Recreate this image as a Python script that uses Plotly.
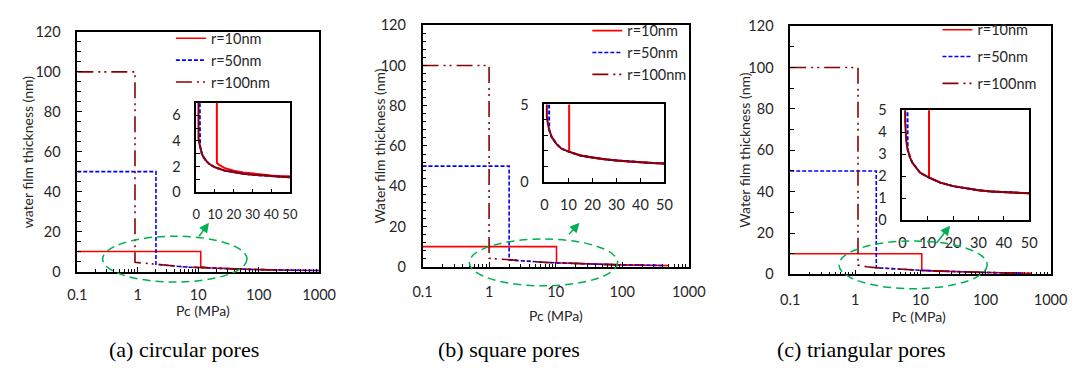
import plotly.graph_objects as go

W, H = 1091, 374

# ---------------- data ----------------
# (a) circular pores
a_r10_pc = [0.1, 11, 11, 12, 15, 20, 25, 30, 35, 40, 45, 50, 70, 100, 200, 500, 1000]
a_r10_h = [10, 10, 2.3, 2.15, 1.9, 1.68, 1.55, 1.45, 1.38, 1.3, 1.25, 1.2, 1.08, 0.96, 0.76, 0.56, 0.45]
a_r50_pc = [0.1, 2, 2, 3, 4, 5, 7, 10, 15, 20, 25, 30, 35, 40, 45, 50, 70, 100, 200, 500, 1000]
a_r50_h = [50, 50, 3.6, 3.0, 2.7, 2.5, 2.2, 1.95, 1.7, 1.55, 1.45, 1.37, 1.3, 1.25, 1.21, 1.17, 1.05, 0.93, 0.74, 0.55, 0.45]
a_r100_pc = [0.1, 0.9, 0.9, 1.2, 1.5, 2, 3, 4, 5, 7, 10, 15, 20, 25, 30, 35, 40, 45, 50, 70, 100, 200, 400]
a_r100_h = [100, 100, 4.6, 4.2, 3.9, 3.5, 3.0, 2.7, 2.5, 2.2, 1.95, 1.7, 1.55, 1.45, 1.37, 1.3, 1.25, 1.21, 1.17, 1.05, 0.93, 0.74, 0.6]

# (b) square pores
b_r10_pc = [0.1, 10.3, 10.3, 15, 20, 25, 30, 35, 40, 45, 50, 70, 100, 200, 500]
b_r10_h = [10, 10, 1.95, 1.7, 1.56, 1.45, 1.38, 1.31, 1.25, 1.21, 1.18, 1.05, 0.93, 0.74, 0.55]
b_r50_pc = [0.1, 2, 2, 3, 4, 5, 7, 10, 15, 20, 25, 30, 35, 40, 45, 50, 70, 100, 200, 400]
b_r50_h = [50, 50, 3.35, 2.9, 2.65, 2.45, 2.15, 1.95, 1.7, 1.56, 1.45, 1.38, 1.31, 1.25, 1.21, 1.18, 1.05, 0.93, 0.74, 0.6]
b_r100_pc = [0.1, 1, 1, 1.5, 2, 3, 4, 5, 7, 10, 15, 20, 25, 30, 35, 40, 45, 50, 70, 100, 200]
b_r100_h = [100, 100, 4.2, 3.7, 3.35, 2.9, 2.65, 2.45, 2.15, 1.95, 1.7, 1.56, 1.45, 1.38, 1.31, 1.25, 1.21, 1.18, 1.05, 0.93, 0.74]

# (c) triangular pores
c_r10_pc = [0.1, 10.5, 10.5, 15, 20, 25, 30, 35, 40, 45, 50, 70, 100, 200, 500]
c_r10_h = [10, 10, 1.93, 1.7, 1.54, 1.44, 1.35, 1.3, 1.25, 1.21, 1.17, 1.05, 0.93, 0.74, 0.55]
c_r50_pc = [0.1, 2.1, 2.1, 3, 4, 5, 7, 10, 15, 20, 25, 30, 35, 40, 45, 50, 70, 100, 200, 350]
c_r50_h = [50, 50, 3.2, 2.85, 2.6, 2.45, 2.15, 1.96, 1.7, 1.54, 1.44, 1.35, 1.3, 1.25, 1.21, 1.17, 1.05, 0.93, 0.74, 0.62]
c_r100_pc = [0.1, 1.1, 1.1, 1.5, 2, 3, 4, 5, 7, 10, 15, 20, 25, 30, 35, 40, 45, 50, 70, 100, 200, 500]
c_r100_h = [100, 100, 4.5, 3.65, 3.25, 2.85, 2.6, 2.45, 2.15, 1.96, 1.7, 1.54, 1.44, 1.35, 1.3, 1.25, 1.21, 1.17, 1.05, 0.93, 0.74, 0.55]

series_names = ["r=10nm", "r=50nm", "r=100nm"]
main_x_ticks = [0.1, 1, 10, 100, 1000]
main_x_labels = ["0.1", "1", "10", "100", "1000"]
y_titles = ["water film thickness (nm)", "Water film thickness (nm)", "Water film thickness (nm)"]
x_title = "Pc (MPa)"
captions = ["(a) circular pores", "(b) square pores", "(c) triangular pores"]

panels = [
    [(a_r10_pc, a_r10_h), (a_r50_pc, a_r50_h), (a_r100_pc, a_r100_h)],
    [(b_r10_pc, b_r10_h), (b_r50_pc, b_r50_h), (b_r100_pc, b_r100_h)],
    [(c_r10_pc, c_r10_h), (c_r50_pc, c_r50_h), (c_r100_pc, c_r100_h)],
]

# ---------------- styling / layout (pixels) ----------------
FONT = "Lato, 'Open Sans', sans-serif"
TXT = "#262626"
TICK_FS = 14.5
colors = ["#FF0000", "#0000FF", "#8B0000"]
dashes = ["solid", "4px,2px", "16px,5px,2px,4px,2px,5px"]

main_boxes = [(69, 317, 24, 275), (423, 696, 17, 270), (800, 1067, 18, 278)]
inset_boxes = [(191, 287, 98, 192), (548, 671, 100, 181), (915, 1045, 106, 221)]
main_minor = [5, 4, 10]
x_standoff = [9, 11, 11]
inset_yrange = [7, 5, 5]
inset_yticks = [[0, 2, 4, 6], [0, 5], [0, 1, 2, 3, 4, 5]]
inset_xfs = [13, TICK_FS, TICK_FS]
legend_pos = [(165, 14), (592, 6), (951, 5)]
legend_gap = [0, 0, 5]
ytitle_x = [18, 379, 753]
xtitle_pos = [(198, 316), (560, 321), (932, 322)]
caption_pos = [(178, 357), (512, 357), (873, 357)]
ellipses = [(95, 243, 238, 286), (471, 623, 241, 290), (850, 1002, 243, 293)]
arrows = [((193, 239), (204, 224)), ((572, 237), (584, 224)), ((949, 246), (964, 227))]
GREEN = "#00B050"


def px(x):
    return x / W


def py(y):
    return 1 - y / H


fig = go.Figure()
layout = dict(
    width=W, height=H, margin=dict(l=0, r=0, t=0, b=0),
    paper_bgcolor="white", plot_bgcolor="white",
    font=dict(family=FONT, size=13, color=TXT),
    shapes=[], annotations=[],
)

for p in range(3):
    mx = 2 * p + 1
    ix = 2 * p + 2
    mxa = "x" if mx == 1 else f"x{mx}"
    mya = "y" if mx == 1 else f"y{mx}"
    ixa = f"x{ix}"
    iya = f"y{ix}"
    leg = "legend" if p == 0 else f"legend{p + 1}"

    for s in range(3):
        xs, ys = panels[p][s]
        fig.add_trace(go.Scatter(
            x=xs, y=ys, mode="lines", name=series_names[s],
            line=dict(color=colors[s], width=1.6, dash=dashes[s]),
            xaxis=mxa, yaxis=mya, legend=leg, legendgroup=f"{p}-{s}",
            showlegend=True,
        ))
    for s in range(3):
        xs, ys = panels[p][s]
        fig.add_trace(go.Scatter(
            x=xs, y=ys, mode="lines",
            line=dict(color=colors[s], width=2.0, dash=dashes[s] if s == 1 else "solid"),
            xaxis=ixa, yaxis=iya, showlegend=False,
        ))

    x0, x1, y0, y1 = main_boxes[p]
    layout[f"xaxis{'' if mx == 1 else mx}"] = dict(
        domain=[px(x0), px(x1)], anchor=mya, type="log", range=[-1, 3],
        tickmode="array", tickvals=main_x_ticks, ticktext=main_x_labels,
        ticks="inside", ticklen=5, tickcolor="black", tickwidth=1,
        minor=dict(dtick="D1", ticks="inside", ticklen=3, tickcolor="black", tickwidth=1),
        showline=True, linecolor="black", linewidth=1.5, mirror=True,
        showgrid=False, zeroline=False, tickfont=dict(size=TICK_FS, color=TXT),
        ticklabelstandoff=x_standoff[p], tickangle=0,
    )
    layout[f"yaxis{'' if mx == 1 else mx}"] = dict(
        domain=[py(y1), py(y0)], anchor=mxa, range=[0, 120], dtick=20,
        ticks="inside", ticklen=5, tickcolor="black", tickwidth=1,
        minor=dict(dtick=main_minor[p], ticks="inside", ticklen=4, tickcolor="black", tickwidth=1),
        showline=True, linecolor="black", linewidth=1.5, mirror=True,
        showgrid=False, zeroline=False, tickfont=dict(size=TICK_FS, color=TXT),
        ticklabelstandoff=12,
    )

    x0, x1, y0, y1 = inset_boxes[p]
    layout[f"xaxis{ix}"] = dict(
        domain=[px(x0), px(x1)], anchor=iya, range=[0, 50], dtick=10,
        ticks="inside", ticklen=4, tickcolor="black",
        showline=True, linecolor="black", linewidth=1.5, mirror=True,
        showgrid=False, zeroline=False, tickfont=dict(size=inset_xfs[p], color=TXT),
        ticklabelstandoff=9, tickangle=0,
    )
    layout[f"yaxis{ix}"] = dict(
        domain=[py(y1), py(y0)], anchor=ixa, range=[0, inset_yrange[p]],
        tickmode="array", tickvals=inset_yticks[p],
        ticks="inside", ticklen=4, tickcolor="black",
        minor=dict(dtick=1, ticks="inside", ticklen=4, tickcolor="black"),
        showline=True, linecolor="black", linewidth=1.5, mirror=True,
        showgrid=False, zeroline=False, tickfont=dict(size=TICK_FS, color=TXT),
        ticklabelstandoff=11,
    )

    lx, ly = legend_pos[p]
    layout[leg] = dict(
        x=px(lx), y=py(ly), xanchor="left", yanchor="top",
        bgcolor="rgba(0,0,0,0)", borderwidth=0,
        font=dict(family=FONT, size=14.5, color=TXT),
        traceorder="grouped", tracegroupgap=legend_gap[p],
    )

    # axis titles and caption
    yt0, yt1 = main_boxes[p][2], main_boxes[p][3]
    layout["annotations"].append(dict(
        text=y_titles[p], x=px(ytitle_x[p]), y=py((yt0 + yt1) / 2), xref="paper", yref="paper",
        textangle=-90, showarrow=False, font=dict(family=FONT, size=14, color=TXT),
        xanchor="center", yanchor="middle"))
    tx, ty = xtitle_pos[p]
    layout["annotations"].append(dict(
        text=x_title, x=px(tx), y=py(ty), xref="paper", yref="paper",
        showarrow=False, font=dict(family=FONT, size=14, color=TXT),
        xanchor="center", yanchor="middle"))
    cx, cy = caption_pos[p]
    layout["annotations"].append(dict(
        text=captions[p], x=px(cx), y=py(cy), xref="paper", yref="paper",
        showarrow=False, font=dict(family="'Liberation Serif', 'Times New Roman', serif", size=22, color="black"),
        xanchor="center", yanchor="middle"))

    # highlight ellipse and arrow
    e0, e1, f0, f1 = ellipses[p]
    layout["shapes"].append(dict(
        type="circle", xref="paper", yref="paper",
        x0=px(e0), x1=px(e1), y0=py(f1), y1=py(f0),
        line=dict(color=GREEN, width=1.5, dash="8px,5px")))
    (tx0, ty0), (hx, hy) = arrows[p]
    layout["annotations"].append(dict(
        x=px(hx), y=py(hy), xref="paper", yref="paper",
        ax=tx0 - hx, ay=ty0 - hy, axref="pixel", ayref="pixel",
        showarrow=True, arrowhead=2, arrowsize=1.3, arrowwidth=1.5, arrowcolor=GREEN, text=""))

fig.update_layout(**layout)
fig.write_html("out.html")
